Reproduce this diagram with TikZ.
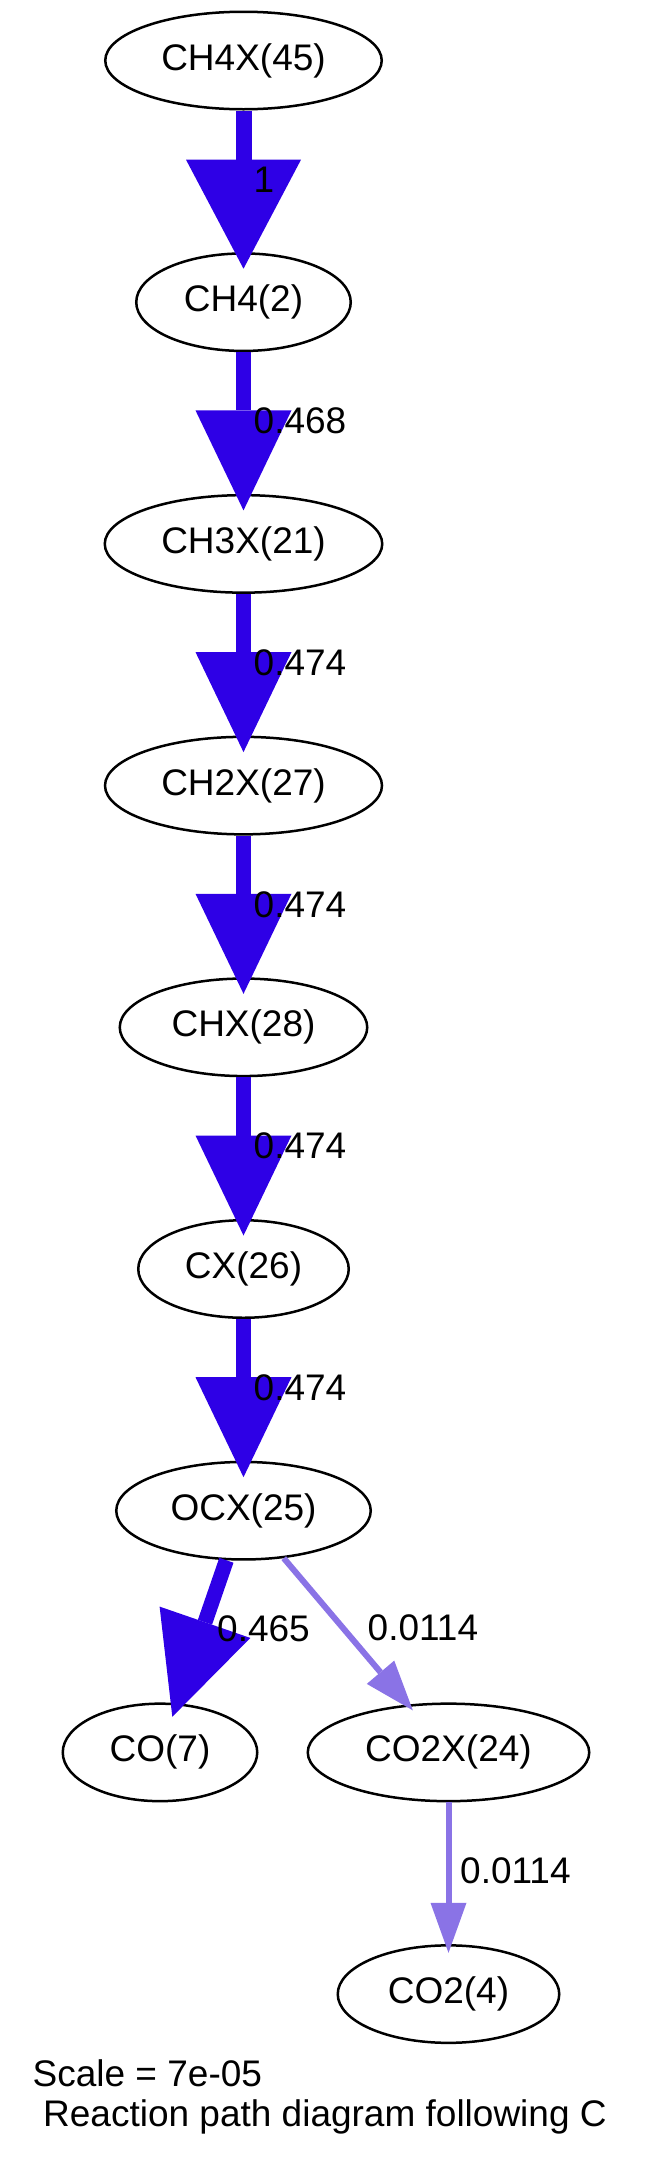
\documentclass[tikz,border=0pt]{standalone}
\usepackage{fontspec}
\setmainfont{Liberation Sans}
\usetikzlibrary{shapes.geometric,arrows.meta,calc}
\definecolor{flowA}{RGB}{46,0,230}
\definecolor{flowB}{RGB}{138,115,230}
\begin{document}
\begin{tikzpicture}[x=1pt,y=-1pt,
  sp/.style={ellipse,draw=black,line width=2.5pt,inner sep=0pt,minimum height=97.5pt,font=\fontsize{37}{44}\selectfont},
  lbl/.style={anchor=west,inner sep=0pt,font=\fontsize{37}{44}\selectfont},
  note/.style={anchor=base west,inner sep=0pt,font=\fontsize{37}{44}\selectfont},
  bigone/.style={draw=flowA,line width=16pt,-{Triangle[length=109pt,width=115pt,line width=0pt]}},
  bigflow/.style={draw=flowA,line width=15pt,-{Triangle[length=100pt,width=96pt,line width=0pt]}},
  smallflow/.style={draw=flowB,line width=6pt,-{Triangle[length=50pt,width=36pt,line width=0pt]}}
]
\useasboundingbox (0,0) rectangle (653,2161);
\node[sp,minimum width=276.5pt] (n45) at (243.5,60.5) {CH4X(45)};
\node[sp,minimum width=214.5pt] (n2) at (243.5,302.2) {CH4(2)};
\node[sp,minimum width=277.5pt] (n21) at (243.5,543.9) {CH3X(21)};
\node[sp,minimum width=277pt] (n27) at (243.5,785.6) {CH2X(27)};
\node[sp,minimum width=247.5pt] (n28) at (243.5,1027.3) {CHX(28)};
\node[sp,minimum width=210.5pt] (n26) at (243.5,1269) {CX(26)};
\node[sp,minimum width=254.5pt] (n25) at (243.5,1510.7) {OCX(25)};
\node[sp,minimum width=194.5pt] (n7) at (160,1752.4) {CO(7)};
\node[sp,minimum width=281.5pt] (n24) at (448.5,1752.4) {CO2X(24)};
\node[sp,minimum width=221.5pt] (n4) at (448.5,1994.1) {CO2(4)};

\draw[bigone] (n45) -- ([yshift=-16.5pt]n2.north);
\draw[bigflow] (n2) -- ([yshift=-16.5pt]n21.north);
\draw[bigflow] (n21) -- ([yshift=-16.5pt]n27.north);
\draw[bigflow] (n27) -- ([yshift=-16.5pt]n28.north);
\draw[bigflow] (n28) -- ([yshift=-16.5pt]n26.north);
\draw[bigflow] (n26) -- ([yshift=-16.5pt]n25.north);
\draw[bigflow,shorten >=-14.4pt] (n25) -- (n7);
\draw[smallflow,shorten >=-7.7pt] (n25) -- (n24);
\draw[smallflow] (n24) -- ([yshift=-8.7pt]n4.north);

\node[lbl] (l1) at (253.5,179.4) {1};
\node[lbl] (l2) at (253.5,421.1) {0.468};
\node[lbl] (l3) at (253.5,662.8) {0.474};
\node[lbl] (l4) at (253.5,904.5) {0.474};
\node[lbl] (l5) at (253.5,1146.2) {0.474};
\node[lbl] (l6) at (253.5,1387.9) {0.474};
\node[lbl] (l7) at (217,1629) {0.465};
\node[lbl] (l8) at (367.5,1628) {0.0114};
\node[lbl] (l9) at (460,1870.8) {0.0114};

\node[note] (s1) at (32.5,2086.7) {Scale = 7e-05};
\node[note] (s2) at (43,2126.7) {Reaction path diagram following C};
\end{tikzpicture}
\end{document}
